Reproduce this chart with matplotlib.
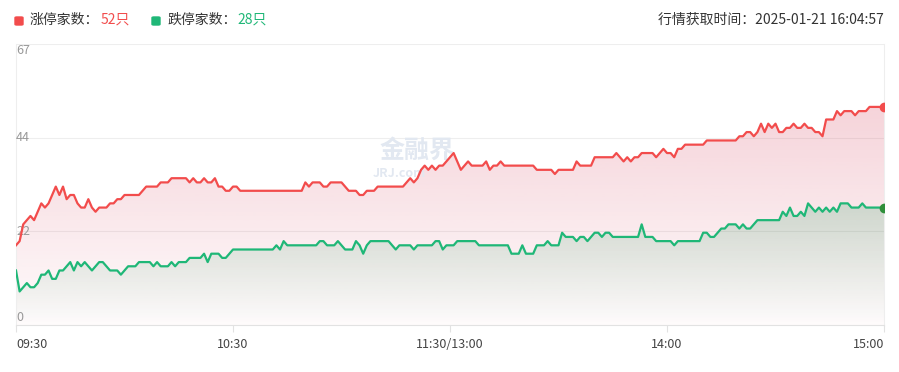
import matplotlib
matplotlib.use("Agg")
import matplotlib.pyplot as plt
import numpy as np
from matplotlib.colors import to_rgb
from matplotlib.patches import FancyBboxPatch

plt.rcParams["font.family"] = ["Noto Sans CJK SC", "DejaVu Sans"]

# minutes since 09:30 (lunch break removed), one point per minute
minutes = np.arange(241)

limit_up = [
    19, 20, 24, 25, 26, 25, 27, 29, 28, 29,
    31, 33, 31, 33, 30, 31, 31, 29, 28, 28,
    30, 28, 27, 28, 28, 28, 29, 29, 30, 30,
    31, 31, 31, 31, 31, 32, 33, 33, 33, 33,
    34, 34, 34, 35, 35, 35, 35, 35, 34, 35,
    34, 34, 35, 34, 34, 35, 33, 33, 32, 32,
    33, 33, 32, 32, 32, 32, 32, 32, 32, 32,
    32, 32, 32, 32, 32, 32, 32, 32, 32, 32,
    34, 33, 34, 34, 34, 33, 33, 34, 34, 34,
    34, 33, 32, 32, 32, 31, 31, 32, 32, 32,
    33, 33, 33, 33, 33, 33, 33, 33, 34, 35,
    34, 35, 37, 38, 37, 38, 37, 38, 38, 39,
    40, 41, 39, 37, 38, 39, 38, 38, 38, 38,
    39, 37, 38, 38, 39, 38, 38, 38, 38, 38,
    38, 38, 38, 38, 37, 37, 37, 37, 37, 36,
    37, 37, 37, 37, 37, 39, 38, 38, 38, 38,
    40, 40, 40, 40, 40, 40, 41, 40, 39, 40,
    39, 40, 40, 41, 41, 41, 41, 40, 41, 42,
    41, 41, 40, 42, 42, 43, 43, 43, 43, 43,
    43, 44, 44, 44, 44, 44, 44, 44, 44, 44,
    45, 45, 46, 46, 45, 46, 48, 46, 48, 47,
    48, 46, 46, 47, 47, 48, 47, 47, 48, 47,
    47, 46, 46, 45, 49, 49, 49, 51, 50, 51,
    51, 51, 50, 51, 51, 51, 52, 52, 52, 52,
    52,
]

limit_down = [
    13, 8, 9, 10, 9, 9, 10, 12, 12, 13,
    11, 11, 13, 13, 14, 15, 13, 15, 14, 15,
    14, 13, 14, 15, 15, 14, 13, 13, 13, 12,
    13, 14, 14, 14, 15, 15, 15, 15, 14, 15,
    14, 14, 14, 15, 14, 15, 15, 15, 16, 16,
    16, 16, 17, 15, 17, 17, 17, 16, 16, 17,
    18, 18, 18, 18, 18, 18, 18, 18, 18, 18,
    18, 18, 19, 18, 20, 19, 19, 19, 19, 19,
    19, 19, 19, 19, 20, 20, 19, 19, 19, 20,
    19, 18, 18, 18, 20, 19, 17, 19, 20, 20,
    20, 20, 20, 20, 19, 18, 19, 19, 19, 19,
    18, 19, 19, 19, 19, 19, 20, 20, 18, 19,
    19, 19, 20, 20, 20, 20, 20, 20, 19, 19,
    19, 19, 19, 19, 19, 19, 19, 17, 17, 17,
    19, 17, 17, 17, 19, 19, 19, 20, 19, 19,
    19, 22, 21, 21, 21, 20, 21, 21, 20, 21,
    22, 22, 21, 22, 22, 21, 21, 21, 21, 21,
    21, 21, 21, 24, 21, 21, 21, 20, 20, 20,
    20, 20, 19, 20, 20, 20, 20, 20, 20, 20,
    22, 22, 21, 21, 22, 23, 23, 24, 24, 24,
    23, 24, 23, 23, 24, 25, 25, 25, 25, 25,
    25, 25, 27, 26, 28, 26, 26, 27, 26, 29,
    28, 27, 28, 27, 28, 27, 28, 27, 29, 29,
    29, 28, 28, 28, 29, 28, 28, 28, 28, 28,
    28,
]

tick_pos = [0, 60, 120, 180, 240]
tick_labels = ["09:30", "10:30", "11:30/13:00", "14:00", "15:00"]
y_max = 67
y_ticks = [0, 67 / 3, 134 / 3, 67]
y_labels = ["0", "22", "44", "67"]

RED = "#f24c4c"
GREEN = "#1fb777"

W, H = 899, 372


def fx(px):
    return px / W


def fy(py):
    return 1 - py / H


def gradient_fill(ax, x, y, color, a_top, a_bot, zorder):
    poly = ax.fill_between(x, y, 0, facecolor="none", edgecolor="none")
    img = np.zeros((200, 1, 4))
    img[:, :, :3] = to_rgb(color)
    img[:, 0, 3] = np.linspace(a_top, a_bot, 200)
    im = ax.imshow(img, aspect="auto", origin="upper", zorder=zorder,
                   extent=[x[0], x[-1], 0, max(y)], interpolation="bilinear")
    im.set_clip_path(poly.get_paths()[0], transform=ax.transData)


fig = plt.figure(figsize=(8.99, 3.72), dpi=100)
ax = fig.add_axes([fx(16), fy(325), fx(884) - fx(16), (325 - 44) / H])

gradient_fill(ax, minutes, limit_up, "#d94a64", 0.24, 0.02, 1)
gradient_fill(ax, minutes, limit_down, "#1f9a5a", 0.2, 0.0, 2)

ax.plot(minutes, limit_up, color=RED, lw=1.6, zorder=5, solid_joinstyle="round")
ax.plot(minutes, limit_down, color=GREEN, lw=1.6, zorder=5, solid_joinstyle="round")
ax.plot(minutes[-1], limit_up[-1], "o", color=RED, ms=6, zorder=6)
ax.plot(minutes[-1], limit_down[-1], "o", color="#2f8f3a", ms=6, zorder=6)

ax.set_xlim(0, 240)
ax.set_ylim(0, y_max)

for v in y_ticks[1:]:
    ax.axhline(v, color="#eeeeee", lw=0.8, zorder=0)
ax.spines["top"].set_visible(False)
for s in ["left", "right"]:
    ax.spines[s].set_color("#eeeeee")
    ax.spines[s].set_linewidth(0.8)
ax.spines["bottom"].set_color("#e2e2e2")
ax.spines["bottom"].set_linewidth(0.8)

ax.set_yticks([])
ax.set_xticks(tick_pos)
ax.set_xticklabels(tick_labels)
ax.tick_params(axis="x", length=5, width=0.8, color="#e2e2e2",
               labelsize=9, labelcolor="#444444", pad=4)
labels = ax.get_xticklabels()
labels[0].set_ha("left")
labels[-1].set_ha("right")

# y labels sit inside the plot
ax.text(0, 67, y_labels[3], ha="left", va="top", fontsize=9, color="#999999")
ax.text(0, y_ticks[2], y_labels[2], ha="left", va="center", fontsize=9, color="#999999")
ax.text(0, y_ticks[1], y_labels[1], ha="left", va="center", fontsize=9, color="#999999")
ax.text(0, 0.3, y_labels[0], ha="left", va="bottom", fontsize=9, color="#999999")

# faint watermark
ax.text(111, 41.5, "金融界", ha="center", va="center", fontsize=18, fontweight="bold",
        color="#e2e8f1", zorder=3)
ax.text(106, 36.2, "JRJ.com", ha="center", va="center", fontsize=9, fontweight="bold",
        color="#e2e8f1", zorder=3)

# legend / header
for px, col in [(15, RED), (152, GREEN)]:
    fig.patches.append(FancyBboxPatch((fx(px), fy(25)), fx(8), 8 / H,
                                      boxstyle="round,pad=0,rounding_size=0.002",
                                      transform=fig.transFigure, color=col))
ty = fy(20)
fig.text(fx(30), ty, "涨停家数：", ha="left", va="center", fontsize=10, color="#333333")
fig.text(fx(101), ty, "52只", ha="left", va="center", fontsize=10, color=RED)
fig.text(fx(167), ty, "跌停家数：", ha="left", va="center", fontsize=10, color="#333333")
fig.text(fx(237), ty, "28只", ha="left", va="center", fontsize=10, color=GREEN)
fig.text(fx(884), ty, "行情获取时间：2025-01-21 16:04:57", ha="right", va="center",
         fontsize=10, color="#333333")

fig.savefig("out.png", dpi=100, facecolor="white")
